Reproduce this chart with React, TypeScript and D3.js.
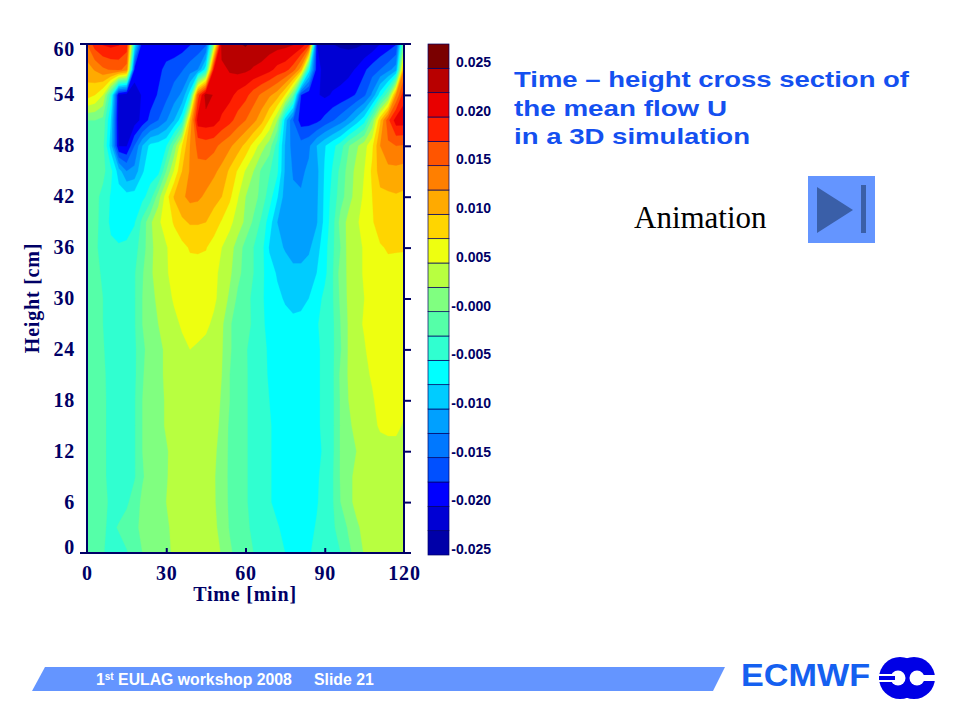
import { useEffect, useRef } from 'react'
import * as d3 from 'd3'

const navy = '#000066'
const slideBlue = '#6495ff'

// time axis in minutes, one column every 3 min
const times = d3.range(0, 123, 3)
const timeTicks = [0, 30, 60, 90, 120]
const heightTicks = [0, 6, 12, 18, 24, 30, 36, 42, 48, 54, 60]
const heights = [60, 57, 54, 51, 48, 45, 42, 39, 36, 33, 30, 27, 24, 21, 18, 15, 12, 9, 6, 3, 0]

// mean flow U, in contour steps of 0.0025
const u60 = [5.5,7,7.6,7.8,7.6,7.2,-3,-8.4,-8.4,-8.3,-8.2,-8.1,-8,-7.6,-7.2,-6.8,0,9,9.3,9.4,9.6,9.3,9.2,9,8.9,8.8,8.6,8.2,7,-8.5,-9.2,-9.5,-9.6,-9.7,-9.7,-9.5,-9.2,-8.5,-8.1,-7.6,0]
const u57 = [4,4.6,5.3,5.6,5.8,5,-8,-8.3,-8.2,-7.8,-7.2,-7,-6.6,-6,-5.5,-3,7.5,8.2,8.6,8.8,8.7,8.4,8.2,7.8,7.2,6.9,6,4,-3,-8.2,-8.8,-9,-9,-8.8,-8.4,-7.7,-7,-6.5,-5.9,-5,4.5]
const u54 = [3,2.5,1.5,-2,-8.8,-9.2,-9,-8.4,-8,-7.4,-6.8,-6,-5.3,-3,6,9,8.4,8.1,7.8,7.2,6.8,6,5.3,4.7,4,2.4,-0.5,-7.5,-8.3,-8.4,-8.7,-8.4,-8.2,-7.9,-7.4,-6.7,-5.3,-3,-0.8,4.5,7.2]
const u51 = [-0.5,-0.5,-0.8,-3.5,-9,-9.2,-9,-8.2,-7.2,-6.5,-5.6,-4.5,-2.8,3.5,8,8.1,8,7.3,6.8,6.1,5.5,4.8,3.9,2.4,0.5,-4,-6.5,-8,-8,-7.8,-7.2,-6.6,-6,-5.2,-4.1,-2.9,-0.3,3.3,6.2,8,8]
const u48 = [-1,-1,-1.2,-4,-8.6,-8.6,-6.5,-4.5,-3.2,-3,-2.6,-0.3,2.5,4.5,5.8,6,5.8,5.2,4.7,4,3.2,2.1,1,0,-2,-4.6,-6,-6.1,-5.7,-4.5,-3.6,-2.8,-2,-0.6,0.3,1.1,2.3,4.5,5.3,5.5,5.4]
const u45 = [-1,-1,-1.2,-2.2,-4,-5.5,-5.2,-3.6,-3,-2.9,-0.5,1.6,3.5,4.6,5.2,5.1,4.7,4.2,3.3,2.4,1.4,0.5,-0.7,-1.4,-2.3,-4.7,-5.6,-5.7,-5.3,-4.8,-3.4,-2.4,-1.2,-0.1,0.8,1.5,2.7,4,4.2,4.2,4.1]
const u42 = [-1,-1.2,-1.8,-2.6,-3,-3.1,-3,-2.8,-2,0,2,3.6,4.3,4.8,4.7,4.3,3.9,3.5,2.7,1.6,0.5,0,-0.9,-2,-3.4,-5,-5.3,-5.4,-5.2,-4.7,-3.3,-2.1,-1,0.1,0.9,1.7,2.5,3.2,3.3,3.4,3.3]
const u39 = [-1,-1.2,-1.9,-2.7,-3,-3,-2.6,-1.2,0.3,1.3,2,2.6,3.3,3.6,3.6,3.5,3,2.4,1.8,1,0.3,-0.7,-1.7,-3,-4.5,-5,-5.2,-5.2,-5,-4.6,-3.2,-1.9,-0.1,0.8,1.3,2,2.4,3,3.2,3.2,3.1]
const u36 = [-1,-1.3,-1.9,-2.3,-2.4,-2.3,-1.9,-1,0.2,1,1.4,2,2.2,2.6,2.6,2.55,2.1,1.5,0.9,0.1,-0.9,-1.5,-2.1,-3.6,-4.2,-4.6,-5,-5,-4.7,-3.9,-2.9,-1.7,-0.5,0.9,1.2,1.6,2.2,2.4,2.6,2.6,2.6]
const u33 = [-1,-1.3,-1.6,-2.2,-2.2,-2.1,-1.6,-0.6,0.3,1,1.4,1.8,2,2.1,2.2,2.1,1.7,1.3,0.7,-0.2,-0.9,-1.5,-2.2,-3.1,-3.6,-4,-4.2,-4.2,-4,-3.5,-2.8,-1.6,-0.1,0.7,1.2,1.6,2,2,2.2,2.1,2]
const u30 = [-1,-1.2,-1.5,-2,-2.2,-2.1,-1.6,-0.5,0.2,0.7,1.2,1.6,2,2,2.1,2,1.7,1.1,0.3,-0.7,-1.2,-1.7,-2.3,-3,-3.3,-3.6,-3.8,-3.8,-3.5,-3,-2.2,-1.6,-0.3,0.7,1.2,1.5,2,2,2,2,2]
const u27 = [-1,-1,-1.5,-2,-2.1,-2,-1.6,-0.5,0,0.5,1,1.3,1.6,1.9,2,1.7,1.3,0.7,-0.4,-0.9,-1.3,-1.6,-2.3,-2.8,-3,-3.2,-3.3,-3.2,-3.1,-2.6,-2.1,-1.7,-0.5,0.6,1.2,1.6,2,2,2,2,2]
const u24 = [-1,-1,-1.4,-2,-2,-2,-1.7,-0.7,-0.1,0.2,0.7,1.1,1.3,1.5,1.3,1.2,1,0.6,-0.4,-0.9,-1.4,-1.9,-2.3,-2.6,-3,-3.1,-3.1,-3.1,-3,-2.7,-2.2,-1.7,-0.6,0.6,1.1,1.4,1.9,2.1,2.2,2.2,2]
const u21 = [-1,-1,-1.3,-1.9,-2,-2,-1.7,-0.6,0,0.2,0.7,1.1,1.2,1.3,1.3,1.2,1,0.5,-0.5,-1,-1.4,-1.8,-2.2,-2.6,-3,-3.1,-3.1,-3.1,-3,-2.7,-2.2,-1.7,-0.3,0.6,1,1.3,1.6,2,2,2,1.9]
const u18 = [-1,-1,-1.3,-1.8,-2,-2,-1.6,-0.5,0,0.2,0.6,1,1.2,1.2,1.2,1.1,0.9,0.4,-0.5,-1,-1.4,-1.8,-2.2,-2.5,-2.9,-3.1,-3.1,-3.1,-3,-2.7,-2.2,-1.7,-0.4,0.5,1,1.2,1.4,1.8,2,2,1.7]
const u15 = [-1,-1,-1.3,-1.8,-2,-2,-1.6,-0.5,0,0.2,0.6,1,1.2,1.2,1.2,1.1,0.8,0.3,-0.7,-1,-1.4,-1.8,-2.2,-2.4,-2.8,-3,-3.1,-3.1,-3,-2.7,-2.2,-1.7,-0.4,0.3,0.8,1.1,1.3,1.6,1.7,1.7,1.4]
const u12 = [-1,-1,-1.3,-1.8,-2,-2,-1.6,-0.5,0,0.2,0.4,0.8,1.1,1.2,1.2,1.1,0.7,0.1,-0.7,-1,-1.4,-1.8,-2.2,-2.4,-2.8,-3,-3.1,-3.1,-3,-2.8,-2.3,-1.7,-0.4,0,0.5,1,1.1,1.2,1.2,1.2,1.1]
const u9 = [-1,-1,-1.3,-1.8,-2,-2,-1.6,-0.6,-0.1,0.1,0.4,0.9,1.1,1.2,1.2,1,0.6,0,-0.7,-1,-1.4,-1.8,-2.2,-2.4,-2.8,-3,-3.1,-3.1,-3,-2.7,-2,-1.6,-0.4,0.2,0.8,1,1,1,1,1,1]
const u6 = [-1,-1,-1.2,-1.7,-2,-1.7,-1,-0.3,0,0.1,0.5,0.9,1.1,1.2,1.2,1,0.6,0.1,-0.7,-1,-1.4,-1.8,-2.2,-2.4,-2.8,-3,-3.1,-3,-2.9,-2.6,-2,-1.6,-0.5,0.2,0.8,1,1,1,1,1,1]
const u3 = [-1,-1,-1.3,-1.8,-1.4,-1,-0.8,-0.2,0,0.1,0.3,0.8,1,1,1.2,1.1,0.7,0.2,-0.6,-1,-1.3,-1.7,-2,-2.2,-2.4,-2.8,-3,-3,-2.8,-2.4,-2,-1.7,-1,-0.4,0.3,0.8,1,1,1,1,1]
const u0 = [-1,-1,-1.4,-2,-2,-1.6,-1,-0.5,0,0,0.2,0.7,1,1,1.2,1.2,1,0.4,-0.3,-0.9,-1.2,-1.5,-1.8,-2,-2.2,-2.5,-3,-3,-2.6,-2.2,-2,-1.8,-1.5,-0.7,-0.2,0.6,1,1,1,1,1]
const uRows = [u60, u57, u54, u51, u48, u45, u42, u39, u36, u33, u30, u27, u24, u21, u18, u15, u12, u9, u6, u3, u0]

// one colour per contour band, lowest first
const bandLevels = d3.range(-10, 11)
const bandColors = [
  '#0000a8', '#0000d4', '#0000ff', '#0050ff', '#0078ff', '#00a0ff', '#00ccff', '#00ffff',
  '#30ffd0', '#55ffa8', '#80ff80', '#b8ff40', '#eeff10', '#ffd500', '#ffaa00', '#ff7f00',
  '#ff5500', '#ff2000', '#e80000', '#b80000', '#7a0000'
]
const legendTicks = [0.025, 0.02, 0.015, 0.01, 0.005, -0, -0.005, -0.01, -0.015, -0.02, -0.025]
const legendLabels = ['0.025', '0.020', '0.015', '0.010', '0.005', '-0.000', '-0.005', '-0.010', '-0.015', '-0.020', '-0.025']

const titleLines = ['Time – height cross section of', 'the mean flow U', 'in a 3D simulation']
const titleWidths = [395, 213, 236]

export default function App() {
  const svgRef = useRef<SVGSVGElement>(null)

  useEffect(() => {
    if (!svgRef.current) return
    const svg = d3.select(svgRef.current)
    svg.selectAll('*').remove()

    const plot = { left: 87, right: 404, top: 44, bottom: 553 }
    const x = d3.scaleLinear().domain([0, 120]).range([plot.left, plot.right])
    const y = d3.scaleLinear().domain([0, 60]).range([plot.bottom, plot.top])

    svg.append('rect').attr('width', 960).attr('height', 720).attr('fill', '#fff')

    svg.append('defs').append('clipPath').attr('id', 'plot-clip')
      .append('rect')
      .attr('x', plot.left).attr('y', plot.top)
      .attr('width', plot.right - plot.left).attr('height', plot.bottom - plot.top)

    // Filled contours, painted from the lowest band upward
    const thresholds = [-100, ...bandLevels.slice(1).map(k => k - 0.5)]
    const contours = d3.contours()
      .size([times.length, heights.length])
      .thresholds(thresholds)(uRows.flat())

    const dt = times[1] - times[0]
    const dh = heights[0] - heights[1]
    const project = d3.geoTransform({
      point(px, py) {
        this.stream.point(x((px - 0.5) * dt), y(heights[0] - (py - 0.5) * dh))
      }
    })

    svg.append('g')
      .attr('clip-path', 'url(#plot-clip)')
      .selectAll('path')
      .data(contours)
      .enter()
      .append('path')
      .attr('d', d3.geoPath(project) as any)
      .attr('fill', (_, i) => bandColors[i])
      .attr('stroke', (_, i) => bandColors[i])
      .attr('stroke-width', 0.3)

    // Axes
    const axisFont = (g: any) => g
      .attr('font-family', '"Liberation Serif", serif')
      .attr('font-weight', 'bold')
      .attr('font-size', 20)
      .attr('letter-spacing', 0.8)
      .attr('fill', navy)

    const left = svg.append('g')
      .attr('transform', `translate(${plot.left},0)`)
      .call(d3.axisLeft(y).tickValues(heightTicks).tickSize(0).tickPadding(12))
      .call(axisFont)
    left.select('.domain').remove()
    left.selectAll('text')
      .attr('fill', navy)
      .attr('dy', (d: any) => (d === 60 ? 11 : d === 0 ? 0 : 6))

    const bottom = svg.append('g')
      .attr('transform', `translate(0,${plot.bottom})`)
      .call(d3.axisBottom(x).tickValues(timeTicks).tickSize(0).tickPadding(13))
      .call(axisFont)
    bottom.select('.domain').remove()
    bottom.selectAll('text').attr('fill', navy)

    const frame = svg.append('g').attr('stroke', navy).attr('stroke-width', 2).attr('fill', 'none')
    frame.append('line').attr('x1', 80).attr('x2', 411).attr('y1', plot.top).attr('y2', plot.top)
    frame.append('line').attr('x1', 80).attr('x2', 411).attr('y1', plot.bottom).attr('y2', plot.bottom)
    frame.append('line').attr('x1', plot.left).attr('x2', plot.left).attr('y1', plot.top).attr('y2', plot.bottom)
    frame.append('line').attr('x1', plot.right).attr('x2', plot.right).attr('y1', plot.top).attr('y2', plot.bottom)

    const rightTicks = svg.append('g')
      .attr('transform', `translate(${plot.right},0)`)
      .call(d3.axisRight(y).tickValues(heightTicks.slice(1, -1)).tickSize(7).tickFormat(() => ''))
    rightTicks.select('.domain').remove()
    rightTicks.selectAll('line').attr('stroke', navy).attr('stroke-width', 2)

    const innerTicks = svg.append('g')
      .attr('transform', `translate(0,${plot.bottom})`)
      .call(d3.axisTop(x).tickValues(timeTicks.slice(1, -1)).tickSize(5).tickFormat(() => ''))
    innerTicks.select('.domain').remove()
    innerTicks.selectAll('line').attr('stroke', navy).attr('stroke-width', 2)

    svg.append('text')
      .attr('x', 245).attr('y', 601)
      .attr('text-anchor', 'middle')
      .call(axisFont)
      .text('Time [min]')

    svg.append('text')
      .attr('transform', 'translate(39,298) rotate(-90)')
      .attr('text-anchor', 'middle')
      .call(axisFont)
      .text('Height [cm]')

    // Colour bar
    const legendY = d3.scaleBand<number>()
      .domain([...bandLevels].reverse())
      .range([44, 555])

    svg.append('g')
      .selectAll('rect')
      .data(bandLevels)
      .enter()
      .append('rect')
      .attr('x', 428)
      .attr('y', d => legendY(d) as number)
      .attr('width', 21)
      .attr('height', legendY.bandwidth())
      .attr('fill', (_, i) => bandColors[i])
      .attr('stroke', navy)
      .attr('stroke-width', 0.7)

    const legendScale = d3.scaleLinear().domain([-0.025, 0.025]).range([543, 56])
    svg.append('g')
      .selectAll('text')
      .data(legendTicks)
      .enter()
      .append('text')
      .attr('x', 491)
      .attr('y', d => legendScale(d) + 11)
      .attr('text-anchor', 'end')
      .attr('font-family', '"Liberation Sans", sans-serif')
      .attr('font-weight', 'bold')
      .attr('font-size', 14)
      .attr('fill', navy)
      .text((_, i) => legendLabels[i])

    // Slide title and animation button
    svg.append('g')
      .selectAll('text')
      .data(titleLines)
      .enter()
      .append('text')
      .attr('x', 514)
      .attr('y', (_, i) => 87 + i * 28.5)
      .attr('font-family', '"Liberation Sans", sans-serif')
      .attr('font-weight', 'bold')
      .attr('font-size', 22)
      .attr('textLength', (_, i) => titleWidths[i])
      .attr('lengthAdjust', 'spacingAndGlyphs')
      .attr('fill', '#1450f0')
      .text(d => d)

    svg.append('text')
      .attr('x', 634).attr('y', 228)
      .attr('font-family', '"Liberation Serif", serif')
      .attr('font-size', 31)
      .attr('fill', '#000')
      .text('Animation')

    svg.append('rect')
      .attr('x', 808).attr('y', 176).attr('width', 67).attr('height', 67)
      .attr('fill', slideBlue)
    svg.append('path')
      .attr('d', 'M817,187L853,210L817,233Z')
      .attr('fill', '#3a5fa8')
    svg.append('rect')
      .attr('x', 861).attr('y', 185).attr('width', 5).attr('height', 48)
      .attr('fill', '#3a5fa8')

    // Footer band
    svg.append('path')
      .attr('d', 'M45,667L725,667L713,691L32,691Z')
      .attr('fill', slideBlue)

    const footer = svg.append('text')
      .attr('y', 685)
      .attr('font-family', '"Liberation Sans", sans-serif')
      .attr('font-weight', 'bold')
      .attr('font-size', 15.8)
      .attr('fill', '#fff')
    footer.append('tspan').attr('x', 96).text('1')
    footer.append('tspan').attr('font-size', 10).attr('dy', -5).text('st')
    footer.append('tspan').attr('dy', 5).text(' EULAG workshop 2008')
    footer.append('tspan').attr('x', 314).text('Slide 21')

    // ECMWF logo
    svg.append('text')
      .attr('x', 741).attr('y', 686)
      .attr('font-family', '"Liberation Sans", sans-serif')
      .attr('font-weight', 'bold')
      .attr('font-size', 32)
      .attr('textLength', 129)
      .attr('lengthAdjust', 'spacingAndGlyphs')
      .attr('fill', '#1560f0')
      .text('ECMWF')

    const logo = svg.append('g')
    logo.append('circle').attr('cx', 900).attr('cy', 678).attr('r', 21).attr('fill', '#0000e6')
    logo.append('circle').attr('cx', 914).attr('cy', 678).attr('r', 21).attr('fill', '#0000e6')
    logo.append('circle').attr('cx', 898).attr('cy', 678).attr('r', 7.5).attr('fill', '#fff')
    logo.append('circle').attr('cx', 917).attr('cy', 678).attr('r', 7.5).attr('fill', '#fff')
    logo.append('rect').attr('x', 878).attr('y', 674).attr('width', 20).attr('height', 8).attr('fill', '#fff')
    logo.append('rect').attr('x', 879).attr('y', 676).attr('width', 16).attr('height', 4).attr('fill', '#0000e6')
    logo.append('rect').attr('x', 917).attr('y', 675).attr('width', 20).attr('height', 6).attr('fill', '#fff')
  }, [])

  return (
    <svg
      ref={svgRef}
      width={960}
      height={720}
      style={{ position: 'absolute', left: 0, top: 0 }}
    />
  )
}
